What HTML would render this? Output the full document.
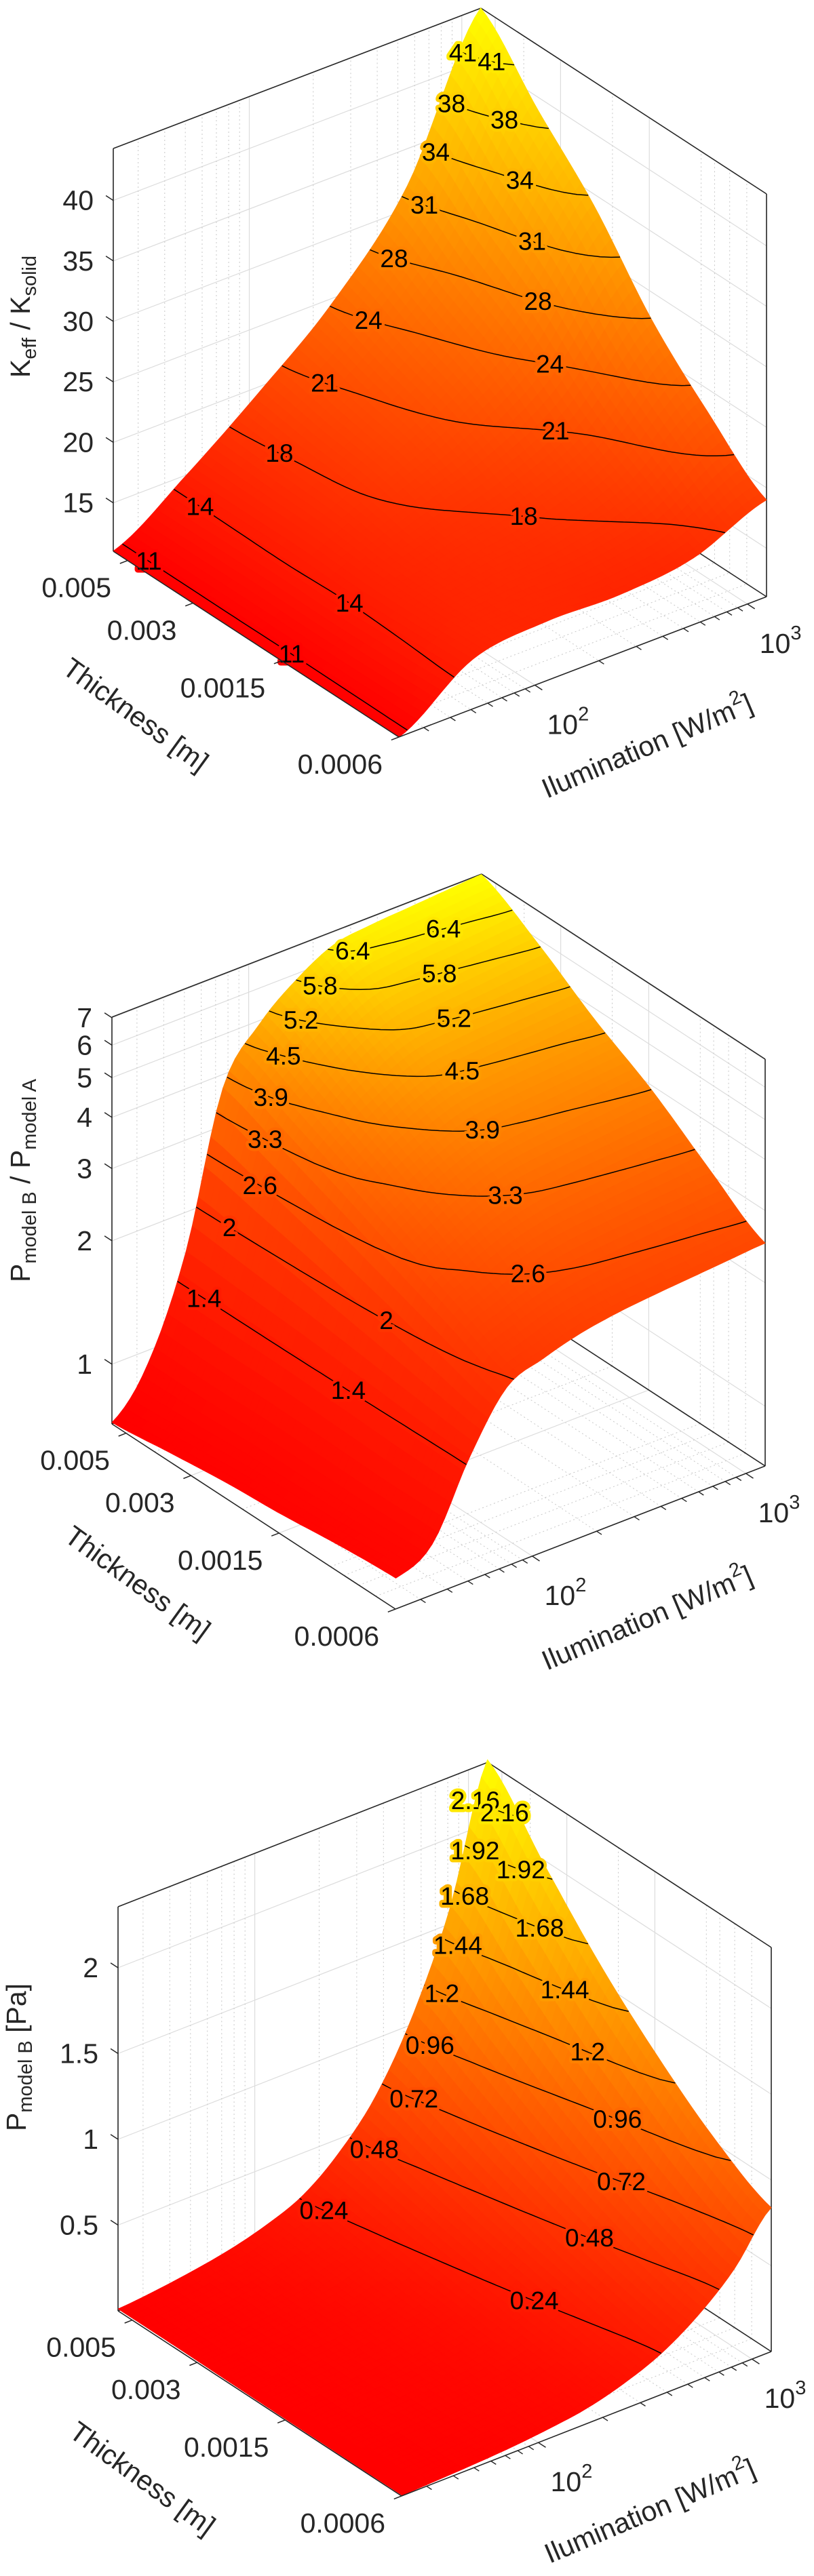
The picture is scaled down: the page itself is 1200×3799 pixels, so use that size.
<!DOCTYPE html>
<html><head><meta charset="utf-8">
<style>
html,body{margin:0;padding:0;background:#fff}
svg{display:block}
text{font-family:"Liberation Sans",Arial,sans-serif;fill:#262626}
</style></head>
<body>
<svg id="fig" width="1200" height="3799" viewBox="0 0 1200 3799" xmlns="http://www.w3.org/2000/svg">
<rect width="1200" height="3799" fill="#fff"/>
<g id="p1"></g>
<g id="p2"></g>
<g id="p3"></g>

<text transform="translate(44,467) rotate(-90)" text-anchor="middle" font-size="41">K<tspan dy="9" font-size="29">eff</tspan><tspan dy="-9"> / K</tspan><tspan dy="9" font-size="29">solid</tspan></text>
<text transform="translate(200,1054) rotate(36)" text-anchor="middle" dominant-baseline="central" font-size="41">Thickness [m]</text>
<text transform="translate(954,1100) rotate(-23)" text-anchor="middle" dominant-baseline="central" font-size="41">Ilumination [W/m<tspan dy="-14" font-size="29">2</tspan><tspan dy="14">]</tspan></text>

<text transform="translate(44,1741) rotate(-90)" text-anchor="middle" font-size="41">P<tspan dy="9" font-size="29">model B</tspan><tspan dy="-9"> / P</tspan><tspan dy="9" font-size="29">model A</tspan></text>
<text transform="translate(203,2334) rotate(36)" text-anchor="middle" dominant-baseline="central" font-size="41">Thickness [m]</text>
<text transform="translate(954,2386) rotate(-23)" text-anchor="middle" dominant-baseline="central" font-size="41">Ilumination [W/m<tspan dy="-14" font-size="29">2</tspan><tspan dy="14">]</tspan></text>

<text transform="translate(38,3034) rotate(-90)" text-anchor="middle" font-size="41">P<tspan dy="9" font-size="29">model B</tspan><tspan dy="-9"> [Pa]</tspan></text>
<text transform="translate(210,3655) rotate(36)" text-anchor="middle" dominant-baseline="central" font-size="41">Thickness [m]</text>
<text transform="translate(958,3703) rotate(-23)" text-anchor="middle" dominant-baseline="central" font-size="41">Ilumination [W/m<tspan dy="-14" font-size="29">2</tspan><tspan dy="14">]</tspan></text>
</svg>

<script>
// ---------- shared axis data ----------
const thicknessTicks = [0.005, 0.003, 0.0015, 0.0006];
const thicknessTickLabels = ['0.005', '0.003', '0.0015', '0.0006'];
const thicknessMinor = [0.004, 0.002, 0.001, 0.0009, 0.0008, 0.0007];
const illumMajor = [100, 1000];
const illumMajorExp = ['2', '3'];
const illumMinor = [30, 40, 50, 60, 70, 80, 90, 200, 300, 400, 500, 600, 700, 800, 900];

// ---------- panel 1: Keff / Ksolid ----------
const p1Thickness = [0.0056, 0.0036, 0.0023, 0.00147, 0.00094, 0.0006];
const p1Illum = [23, 51, 113, 250, 555, 1230];
const p1Z = [
  [11.0, 15.0, 19.6, 24.7, 31.9, 44.3],
  [11.0, 15.0, 18.8, 22.8, 28.6, 39.0],
  [11.0, 15.0, 18.1, 21.0, 25.6, 34.0],
  [11.0, 14.8, 16.8, 18.5, 21.5, 27.7],
  [11.0, 14.9, 16.2, 16.9, 18.7, 23.0],
  [11.0, 15.1, 15.9, 15.8, 16.5, 19.0]
];
const p1Levels = [11.3, 14.2, 17.6, 21, 24.4, 27.8, 31.2, 34.6, 38, 41.4];
const p1LevelLabels = ['11', '14', '18', '21', '24', '28', '31', '34', '38', '41'];
const p1ZTicks = [15, 20, 25, 30, 35, 40];
const p1ZTickLabels = ['15', '20', '25', '30', '35', '40'];

// ---------- panel 2: P model B / P model A ----------
const p2Thickness = [0.0056, 0.0036, 0.0023, 0.00147, 0.00094, 0.0006];
const p2Illum = [23, 34, 51, 76, 113, 168, 250, 372, 555, 826, 1230];
const p2Z = [
  [0.72, 0.93, 1.60, 3.70, 4.90, 5.80, 6.50, 6.70, 6.80, 6.90, 7.00],
  [0.75, 0.93, 1.57, 3.27, 4.17, 4.85, 5.36, 5.53, 5.64, 5.75, 5.85],
  [0.78, 0.94, 1.54, 2.88, 3.53, 4.00, 4.35, 4.47, 4.55, 4.62, 4.70],
  [0.80, 0.94, 1.50, 2.53, 2.99, 3.33, 3.57, 3.68, 3.75, 3.83, 3.90],
  [0.83, 0.94, 1.46, 2.22, 2.51, 2.73, 2.87, 2.94, 3.00, 3.05, 3.10],
  [0.85, 0.95, 1.43, 1.95, 2.12, 2.25, 2.33, 2.38, 2.42, 2.46, 2.50]
];
const p2Levels = [1.38, 2.01, 2.64, 3.27, 3.9, 4.53, 5.16, 5.79, 6.42];
const p2LevelLabels = ['1.4', '2', '2.6', '3.3', '3.9', '4.5', '5.2', '5.8', '6.4'];
const p2ZTicks = [1, 2, 3, 4, 5, 6, 7];
const p2ZTickLabels = ['1', '2', '3', '4', '5', '6', '7'];

// ---------- panel 3: P model B [Pa] ----------
const p3Thickness = [0.0056, 0.0036, 0.0023, 0.00147, 0.00094, 0.0006];
const p3Illum = [23, 34, 51, 76, 113, 168, 250, 372, 555, 826, 1230];
const p3Z = [
  [0.010, 0.030, 0.060, 0.100, 0.160, 0.250, 0.420, 0.670, 1.060, 1.600, 2.370],
  [0.010, 0.025, 0.050, 0.084, 0.134, 0.209, 0.351, 0.559, 0.885, 1.336, 1.979],
  [0.007, 0.020, 0.041, 0.068, 0.108, 0.169, 0.284, 0.453, 0.717, 1.082, 1.602],
  [0.005, 0.016, 0.033, 0.054, 0.087, 0.136, 0.228, 0.364, 0.577, 0.870, 1.289],
  [0.004, 0.013, 0.026, 0.043, 0.069, 0.108, 0.182, 0.290, 0.459, 0.693, 1.026],
  [0.004, 0.011, 0.021, 0.035, 0.057, 0.089, 0.149, 0.237, 0.375, 0.566, 0.839]
];
const p3Levels = [0.24, 0.48, 0.72, 0.96, 1.2, 1.44, 1.68, 1.92, 2.16];
const p3LevelLabels = ['0.24', '0.48', '0.72', '0.96', '1.2', '1.44', '1.68', '1.92', '2.16'];
const p3ZTicks = [0.5, 1, 1.5, 2];
const p3ZTickLabels = ['0.5', '1', '1.5', '2'];

// ---------- axis functions ----------
const T_MAX = 0.00559, T_MIN = 0.0006, LOGI_MIN = 1.36, LOGI_MAX = 3.09;
function uOf(t) { return (Math.log(T_MAX) - Math.log(t)) / (Math.log(T_MAX) - Math.log(T_MIN)); }
function vOf(I) { return (Math.log10(I) - LOGI_MIN) / (LOGI_MAX - LOGI_MIN); }

const NS = 'http://www.w3.org/2000/svg';
function mk(parent, tag, attrs) {
  const el = document.createElementNS(NS, tag);
  for (const k in attrs) el.setAttribute(k, attrs[k]);
  parent.appendChild(el);
  return el;
}
function cr(p0, p1, p2, p3, t) {
  return 0.5 * (2 * p1 + (-p0 + p2) * t + (2 * p0 - 5 * p1 + 4 * p2 - p3) * t * t + (-p0 + 3 * p1 - 3 * p2 + p3) * t * t * t);
}
function sample1(arr, x) {
  const n = arr.length; let i = Math.floor(x); if (i > n - 2) i = n - 2; if (i < 0) i = 0;
  const t = x - i; const g = k => arr[Math.max(0, Math.min(n - 1, k))];
  return cr(g(i - 1), g(i), g(i + 1), g(i + 2), t);
}
function sample2(M, a, b) {
  const nr = M.length; let i = Math.floor(a); if (i > nr - 2) i = nr - 2; if (i < 0) i = 0;
  const t = a - i; const rv = k => sample1(M[Math.max(0, Math.min(nr - 1, k))], b);
  return cr(rv(i - 1), rv(i), rv(i + 1), rv(i + 2), t);
}
function lin1(arr, x) {
  const n = arr.length; let i = Math.floor(x); if (i > n - 2) i = n - 2; if (i < 0) i = 0;
  return arr[i] + (arr[i + 1] - arr[i]) * (x - i);
}

function renderPanel(g, cfg, thick, illum, Z, levels, levelLabels, zTicks, zTickLabels) {
  const L = cfg.L, F = cfg.F, R = cfg.R, H = cfg.H;
  const ex = [F[0] - L[0], F[1] - L[1]], ey = [R[0] - F[0], R[1] - F[1]];
  const exl = Math.hypot(ex[0], ex[1]), eyl = Math.hypot(ey[0], ey[1]);
  const exn = [ex[0] / exl, ex[1] / exl], eyn = [ey[0] / eyl, ey[1] / eyl];
  const zpx = z => cfg.log ? Math.log(z / cfg.zmin) * cfg.k : (z - cfg.zmin) * cfg.k;
  const Pf = (u, v, h) => [L[0] + u * ex[0] + v * ey[0], L[1] + u * ex[1] + v * ey[1] - h];
  const P = (u, v, z) => Pf(u, v, zpx(z));
  const f = n => n.toFixed(1);
  function line(a, b, stroke, w, dash, name) {
    const el = mk(g, 'line', { x1: f(a[0]), y1: f(a[1]), x2: f(b[0]), y2: f(b[1]), stroke: stroke, 'stroke-width': w });
    if (dash) el.setAttribute('stroke-dasharray', dash);
    
    
    return el;
  }
  const GRID = '#dcdcdc', GRIDM = '#c8c8c8', AX = '#262626';

  // grid: z
  zTicks.forEach(z => {
    const h = zpx(z);
    line(Pf(0, 0, h), Pf(0, 1, h), GRID, 1.2, null, 'z-gridline');
    line(Pf(0, 1, h), Pf(1, 1, h), GRID, 1.2, null, 'z-gridline');
  });
  // grid: illumination
  illumMinor.forEach(I => {
    const v = vOf(I);
    line(Pf(0, v, 0), Pf(0, v, H), GRIDM, 1, '2 4', 'illumination-minor-gridline');
    line(Pf(0, v, 0), Pf(1, v, 0), GRIDM, 1, '2 4', 'illumination-minor-gridline');
  });
  illumMajor.forEach(I => {
    const v = vOf(I);
    line(Pf(0, v, 0), Pf(0, v, H), GRID, 1.2, null, 'illumination-gridline');
    line(Pf(0, v, 0), Pf(1, v, 0), GRID, 1.2, null, 'illumination-gridline');
  });
  // grid: thickness
  thicknessMinor.forEach(t => {
    const u = uOf(t);
    line(Pf(u, 1, 0), Pf(u, 1, H), GRIDM, 1, '2 4', 'thickness-minor-gridline');
    line(Pf(u, 0, 0), Pf(u, 1, 0), GRIDM, 1, '2 4', 'thickness-minor-gridline');
  });
  thicknessTicks.forEach(t => {
    const u = uOf(t);
    line(Pf(u, 1, 0), Pf(u, 1, H), GRID, 1.2, null, 'thickness-gridline');
    line(Pf(u, 0, 0), Pf(u, 1, 0), GRID, 1.2, null, 'thickness-gridline');
  });
  // back box edges
  line(Pf(0, 0, H), Pf(0, 1, H), AX, 1.6, null, 'box-edge');
  line(Pf(0, 1, H), Pf(1, 1, H), AX, 1.6, null, 'box-edge');
  line(Pf(0, 1, 0), Pf(0, 1, H), AX, 1.4, null, 'box-edge');
  line(Pf(0, 0, 0), Pf(0, 1, 0), AX, 1.6, null, 'box-edge');
  line(Pf(0, 1, 0), Pf(1, 1, 0), AX, 1.6, null, 'box-edge');
  line(Pf(0, 0, 0), Pf(0, 0, H), AX, 1.6, null, 'z-axis-line');
  line(Pf(1, 1, 0), Pf(1, 1, H), AX, 1.6, null, 'box-edge');

  // surface
  const nr = Z.length, nc = Z[0].length;
  const W = Z.map(r => r.map(z => cfg.log ? Math.log(z) : z));
  const uArr = thick.map(uOf), vArr = illum.map(vOf);
  const NA = 48, NB = 60;
  const Uf = [], Vf = [], G = [];
  for (let i = 0; i <= NA; i++) Uf.push(lin1(uArr, i * (nr - 1) / NA));
  for (let j = 0; j <= NB; j++) Vf.push(lin1(vArr, j * (nc - 1) / NB));
  for (let i = 0; i <= NA; i++) { G.push([]); for (let j = 0; j <= NB; j++) G[i].push(sample2(W, i * (nr - 1) / NA, j * (nc - 1) / NB)); }
  const toZ = w => cfg.log ? Math.exp(w) : w;
  let zmin = Infinity, zmax = -Infinity;
  Z.forEach(r => r.forEach(z => { zmin = Math.min(zmin, z); zmax = Math.max(zmax, z); }));
  const col = z => { let t = (z - zmin) / (zmax - zmin); t = Math.max(0, Math.min(1, t)); return 'rgb(255,' + Math.round(255 * t) + ',0)'; };
  const surf = mk(g, 'g', {});
  
  
  const cells = [];
  for (let i = 0; i < NA; i++) for (let j = 0; j < NB; j++) cells.push([i, j, Uf[i] - Vf[j + 1]]);
  cells.sort((a, b) => a[2] - b[2]);
  cells.forEach(([i, j]) => {
    const cs = [[i, j], [i + 1, j], [i + 1, j + 1], [i, j + 1]];
    let avg = 0; const pts = cs.map(([a, b]) => { const z = toZ(G[a][b]); avg += z / 4; return Pf(Uf[a], Vf[b], cfg.log ? Math.log(z / cfg.zmin) * cfg.k : (z - cfg.zmin) * cfg.k); });
    const c = col(avg);
    const el = mk(surf, 'path', { d: 'M' + pts.map(p => f(p[0]) + ' ' + f(p[1])).join('L') + 'Z', fill: c, stroke: c, 'stroke-width': 0.9, 'stroke-linejoin': 'round' });
    
    
  });

  // contours
  const labelItems = [];
  levels.forEach((lv, k) => {
    const lw = cfg.log ? Math.log(lv) : lv;
    const segs = [];
    for (let i = 0; i < NA; i++) for (let j = 0; j < NB; j++) {
      const cs = [[i, j], [i + 1, j], [i + 1, j + 1], [i, j + 1]];
      const pts = [];
      for (let e = 0; e < 4; e++) {
        const p = cs[e], q = cs[(e + 1) % 4];
        const va = G[p[0]][p[1]], vb = G[q[0]][q[1]];
        if ((va < lw) !== (vb < lw)) {
          const t = (lw - va) / (vb - va);
          const u = Uf[p[0]] + t * (Uf[q[0]] - Uf[p[0]]);
          const v = Vf[p[1]] + t * (Vf[q[1]] - Vf[p[1]]);
          pts.push(P(u, v, lv));
        }
      }
      if (pts.length >= 2) segs.push([pts[0], pts[1]]);
      if (pts.length === 4) segs.push([pts[2], pts[3]]);
    }
    if (!segs.length) return;
    const d = segs.map(s => 'M' + f(s[0][0]) + ' ' + f(s[0][1]) + 'L' + f(s[1][0]) + ' ' + f(s[1][1])).join('');
    const path = mk(g, 'path', { d: d, fill: 'none', stroke: '#000', 'stroke-width': 1.5 });
    
    
    const mids = segs.map(s => [(s[0][0] + s[1][0]) / 2, (s[0][1] + s[1][1]) / 2]).sort((a, b) => a[0] - b[0]);
    cfg.labelFrac.forEach(fr => {
      const m = mids[Math.min(mids.length - 1, Math.floor(fr * mids.length))];
      labelItems.push([m, levelLabels[k], col(lv)]);
    });
  });
  labelItems.forEach(([m, txt, c]) => {
    const t = mk(g, 'text', { x: f(m[0]), y: f(m[1]), 'text-anchor': 'middle', 'dominant-baseline': 'central', 'font-size': 37, stroke: c, 'stroke-width': 9, 'paint-order': 'stroke', 'stroke-linejoin': 'round', style: 'fill:#000' });
    t.textContent = txt;
    
    
  });

  // front axes
  line(Pf(0, 0, 0), Pf(1, 0, 0), AX, 1.6, null, 'thickness-axis-line');
  line(Pf(1, 0, 0), Pf(1, 1, 0), AX, 1.6, null, 'illumination-axis-line');
  thicknessTicks.forEach((t, k) => {
    const p = Pf(uOf(t), 0, 0);
    line(p, [p[0] - eyn[0] * 12, p[1] - eyn[1] * 12], AX, 1.5, null, 'thickness-tick');
    const tx = mk(g, 'text', { x: f(p[0] - 24), y: f(p[1] + 40), 'text-anchor': 'end', 'dominant-baseline': 'central', 'font-size': 41 });
    tx.textContent = thicknessTickLabels[k];
    
    
  });
  illumMinor.forEach(I => {
    const p = Pf(1, vOf(I), 0);
    line(p, [p[0] + exn[0] * 9, p[1] + exn[1] * 9], AX, 1.4, null, 'illumination-minor-tick');
  });
  illumMajor.forEach((I, k) => {
    const p = Pf(1, vOf(I), 0);
    line(p, [p[0] + exn[0] * 13, p[1] + exn[1] * 13], AX, 1.5, null, 'illumination-tick');
    const tx = mk(g, 'text', { x: f(p[0] + 18), y: f(p[1] + 58), 'text-anchor': 'start', 'dominant-baseline': 'central', 'font-size': 41 });
    tx.textContent = '10';
    const sup = mk(tx, 'tspan', { dy: -15, 'font-size': 29 });
    sup.textContent = illumMajorExp[k];
    
    
    
    
  });
  zTicks.forEach((z, k) => {
    const p = Pf(0, 0, zpx(z));
    line(p, [p[0] - exn[0] * 13, p[1] - exn[1] * 13], AX, 1.5, null, 'z-tick');
    const tx = mk(g, 'text', { x: f(p[0] - 29), y: f(p[1]), 'text-anchor': 'end', 'dominant-baseline': 'central', 'font-size': 41 });
    tx.textContent = zTickLabels[k];
    
    
  });
}

renderPanel(document.getElementById('p1'),
  { L: [167, 813], F: [588, 1087], R: [1130, 880], H: 594, log: false, zmin: 11, k: 17.84, labelFrac: [0.1, 0.6] },
  p1Thickness, p1Illum, p1Z, p1Levels, p1LevelLabels, p1ZTicks, p1ZTickLabels);
renderPanel(document.getElementById('p2'),
  { L: [165, 2100], F: [583, 2373], R: [1128, 2162], H: 600, log: true, zmin: 0.715, k: 262.6, labelFrac: [0.1, 0.6] },
  p2Thickness, p2Illum, p2Z, p2Levels, p2LevelLabels, p2ZTicks, p2ZTickLabels);
renderPanel(document.getElementById('p3'),
  { L: [174, 3408], F: [592, 3681], R: [1137, 3468], H: 596, log: false, zmin: 0, k: 253, labelFrac: [0.08, 0.65] },
  p3Thickness, p3Illum, p3Z, p3Levels, p3LevelLabels, p3ZTicks, p3ZTickLabels);
</script>
</body></html>
